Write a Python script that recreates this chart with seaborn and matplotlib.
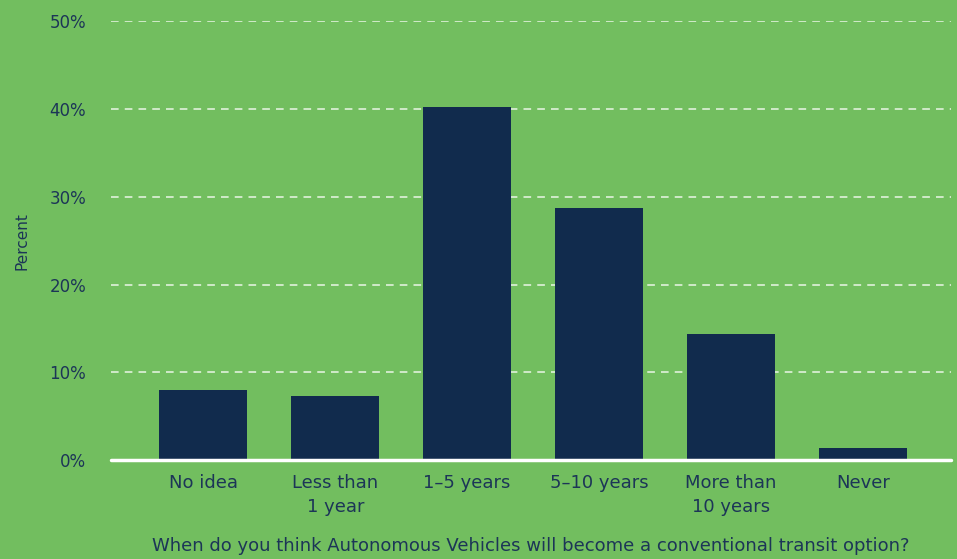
import pandas as pd
import matplotlib.pyplot as plt
import seaborn as sns

# Survey data
categories = ['No idea', 'Less than\n1 year', '1–5 years', '5–10 years', 'More than\n10 years', 'Never']
percent = [8.0, 7.3, 40.2, 28.7, 14.4, 1.4]

BG_COLOR = '#72BE5F'
BAR_COLOR = '#112B4D'
TEXT_COLOR = '#1C3557'

sns.set_theme(style='white')
plt.rcParams['font.family'] = ['DejaVu Sans']

df = pd.DataFrame({'category': categories, 'percent': percent})

fig = plt.figure(figsize=(9.57, 5.59), dpi=100, facecolor=BG_COLOR)
ax = fig.add_axes([0.116, 0.177, 0.878, 0.785])
ax.set_facecolor(BG_COLOR)

sns.barplot(data=df, x='category', y='percent', color=BAR_COLOR,
            width=0.667, saturation=1, linewidth=0, ax=ax, zorder=3)

ax.set_xlim(-0.7, 5.67)
ax.set_ylim(0, 50)
ax.set_yticks(range(0, 51, 10))
ax.set_yticklabels([f'{v}%' for v in range(0, 51, 10)])

# dashed white gridlines
ax.yaxis.grid(True, color='#EAF5E6', linestyle=(0, (5, 4)), linewidth=1.1, zorder=0)
ax.xaxis.grid(False)
for s in ax.spines.values():
    s.set_visible(False)
ax.axhline(0, color='white', linewidth=2.5, zorder=4, clip_on=False)

ax.tick_params(axis='y', length=0, pad=18, labelsize=12, labelcolor=TEXT_COLOR)
ax.tick_params(axis='x', length=0, pad=10, labelsize=13, labelcolor=TEXT_COLOR)
for lbl in ax.get_xticklabels():
    lbl.set_linespacing(1.45)

ax.set_ylabel('Percent', fontsize=11, color=TEXT_COLOR, labelpad=14)
ax.set_xlabel('When do you think Autonomous Vehicles will become a conventional transit option?',
              fontsize=13, color=TEXT_COLOR)
ax.xaxis.set_label_coords(0.5, -0.196)
ax.xaxis.label.set_va('center')

plt.savefig('out.png', dpi=100, facecolor=BG_COLOR)
plt.close()
